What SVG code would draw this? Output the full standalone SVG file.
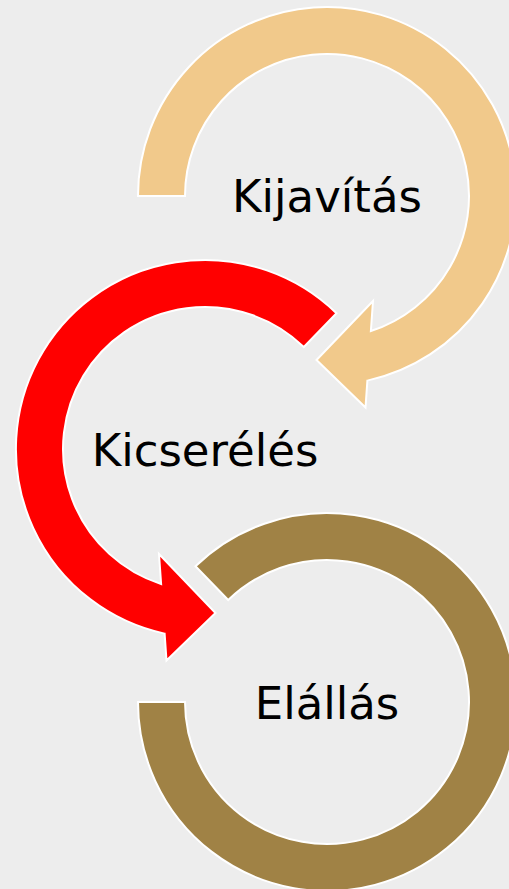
<svg xmlns="http://www.w3.org/2000/svg" width="509" height="889" viewBox="0 0 509 889">
<style>
.arr{stroke:#FFFFFF;stroke-width:2;stroke-linejoin:miter}
.lbl{font-family:"DejaVu Sans","Verdana",sans-serif;font-size:45px;fill:#000000;text-anchor:middle}
</style>
<rect x="0" y="0" width="509" height="889" fill="#EDEDED"/>
<g id="connectors"></g>
<g id="node-kijavitas">
<path class="arr" fill="#F1C98B" d="M138,196 A189,189 0 1 1 367.39,380.63 L365.5,407.5 L316.5,360 L373,301 L370.88,331.05 A142,142 0 1 0 185,196 Z"/>
<text class="lbl" x="327" y="212">Kijavítás</text>
</g>
<g id="node-kicsereles">
<path class="arr" fill="#FF0000" d="M336.5,313.3 A189,189 0 1 0 164.61,633.63 L166.5,660.5 L215.5,613 L159,554 L161.12,584.05 A142,142 0 1 1 303.8,347 Z"/>
<text class="lbl" x="205" y="466">Kicserélés</text>
</g>
<g id="node-elallas">
<path class="arr" fill="#A08245" d="M138,702 A189,189 0 1 0 195.5,566.3 L228.2,600 A142,142 0 1 1 185,702 Z"/>
<text class="lbl" x="327" y="719">Elállás</text>
</g>
</svg>
